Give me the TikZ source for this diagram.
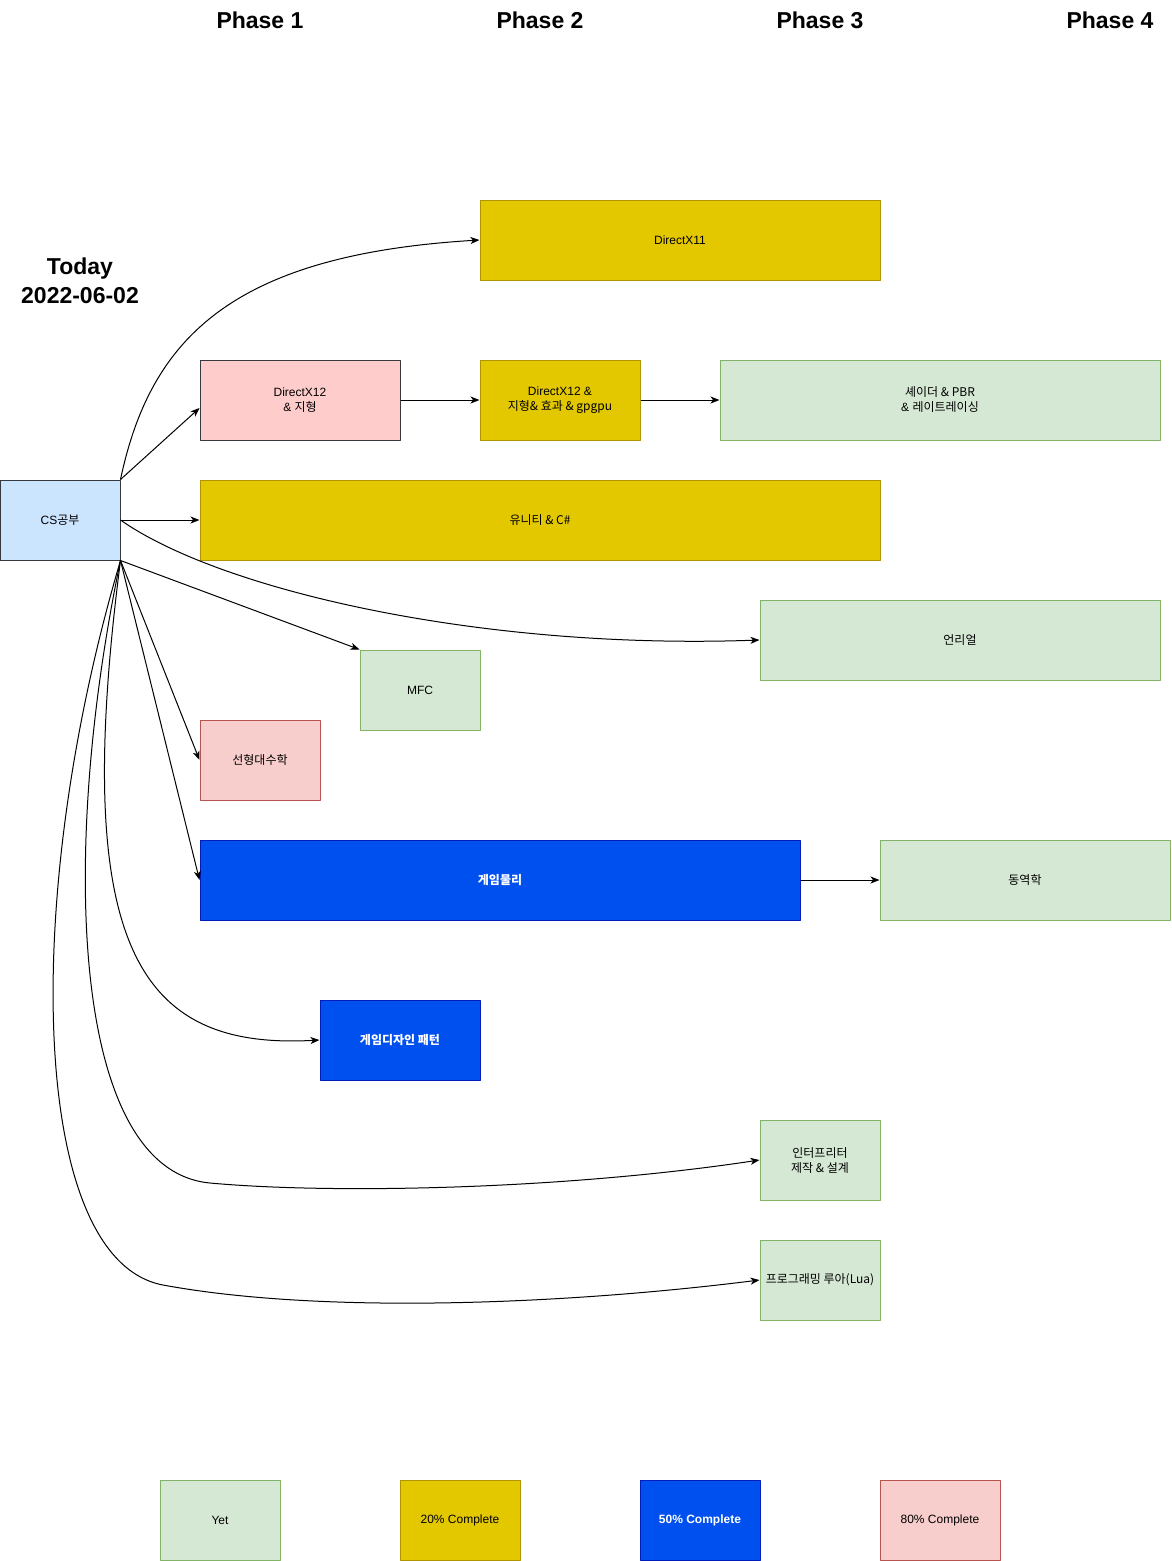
\documentclass[tikz,border=0pt]{standalone}
\usepackage{fontspec}
\setmainfont{Liberation Sans}
\newfontfamily\kr{Noto Sans CJK KR}
\usetikzlibrary{arrows.meta}
\definecolor{csfill}{HTML}{CCE5FF}
\definecolor{darkline}{HTML}{36393D}
\definecolor{yelfill}{HTML}{E3C800}
\definecolor{yelline}{HTML}{B09500}
\definecolor{pinkfill}{HTML}{FFCCCC}
\definecolor{yetfill}{HTML}{D5E8D4}
\definecolor{yetline}{HTML}{82B366}
\definecolor{redfill}{HTML}{F8CECC}
\definecolor{redline}{HTML}{B85450}
\definecolor{bluefill}{HTML}{0050EF}
\definecolor{blueline}{HTML}{001DBC}
\begin{document}
\begin{tikzpicture}[x=1pt, y=-1pt, font=\fontsize{12}{15}\selectfont, line join=round,
  >={Stealth[length=9pt,width=7pt,inset=2.5pt]},
  box/.style={draw, line width=1pt, inner sep=0pt, align=center, minimum height=80},
  csbox/.style={box, fill=csfill, draw=darkline},
  yelbox/.style={box, fill=yelfill, draw=yelline},
  pinkbox/.style={box, fill=pinkfill, draw=darkline},
  yetbox/.style={box, fill=yetfill, draw=yetline},
  redbox/.style={box, fill=redfill, draw=redline},
  bluebox/.style={box, fill=bluefill, draw=blueline, text=white, font=\fontsize{12}{15}\selectfont\bfseries},
  head/.style={font=\fontsize{23}{27}\selectfont\bfseries, align=center},
  link/.style={->, line width=1pt}]
\useasboundingbox (0,0) rectangle (1171,1561);
% phases
\node[head] (p1) at (260,20) {Phase 1};
\node[head] (p2) at (540,20) {Phase 2};
\node[head] (p3) at (820,20) {Phase 3};
\node[head] (p4) at (1110,20) {Phase 4};
\node[head, font=\fontsize{23}{29}\selectfont\bfseries] (today) at (80,281) {Today\\2022-06-02};
% topics
\node[csbox, minimum width=120] (cs) at (60,520) {CS\kr{공부}};
\node[yelbox, minimum width=400] (dxa) at (680,240) {DirectX11};
\node[pinkbox, minimum width=200] (dxb) at (300,400) {DirectX12\\\& \kr{지형}};
\node[yelbox, minimum width=160] (dxc) at (560,400) {DirectX12 \&\\\kr{지형}\& \kr{효과} \& gpgpu};
\node[yetbox, minimum width=440] (shader) at (940,400) {\kr{셰이더} \& PBR\\\& \kr{레이트레이싱}};
\node[yelbox, minimum width=680] (unity) at (540,520) {\kr{유니티} \& C\#};
\node[yetbox, minimum width=400] (unreal) at (960,640) {\kr{언리얼}};
\node[yetbox, minimum width=120] (mfc) at (420,690) {MFC};
\node[redbox, minimum width=120] (linalg) at (260,760) {\kr{선형대수학}};
\node[bluebox, minimum width=600] (phys) at (500,880) {\kr{게임물리}};
\node[yetbox, minimum width=290] (dyn) at (1025,880) {\kr{동역학}};
\node[bluebox, minimum width=160] (pattern) at (400,1040) {\kr{게임디자인 패턴}};
\node[yetbox, minimum width=120] (interp) at (820,1160) {\kr{인터프리터}\\\kr{제작} \& \kr{설계}};
\node[yetbox, minimum width=120] (lua) at (820,1280) {\kr{프로그래밍 루아}(Lua)};
% legend
\node[yetbox, minimum width=120] (lyet) at (220,1520) {Yet};
\node[yelbox, minimum width=120] (l20) at (460,1520) {20\% Complete};
\node[bluebox, minimum width=120] (l50) at (700,1520) {50\% Complete};
\node[redbox, minimum width=120] (l80) at (940,1520) {80\% Complete};
% links
\draw[link] (cs.north east) .. controls (150,340) and (230,255) .. (dxa.west);
\draw[link] (cs.north east) -- ([yshift=-8pt]dxb.west);
\draw[link] (dxb) -- (dxc);
\draw[link] (dxc) -- (shader);
\draw[link] (cs.east) -- (unity.west);
\draw[link] (cs.east) .. controls (220,590) and (480,650) .. (unreal.west);
\draw[link] (cs.south east) -- (mfc.north west);
\draw[link] (cs.south east) -- (linalg.west);
\draw[link] (cs.south east) -- (phys.west);
\draw[link] (phys) -- (dyn);
\draw[link] (cs.south east) .. controls (70,950) and (140,1050) .. (pattern.west);
\draw[link] (cs.south east) .. controls (60,850) and (70,1170) .. (210,1183) .. controls (330,1194) and (560,1190) .. (interp.west);
\draw[link] (cs.south east) .. controls (20,900) and (30,1260) .. (163,1285) .. controls (320,1314) and (560,1305) .. (lua.west);
\end{tikzpicture}
\end{document}
